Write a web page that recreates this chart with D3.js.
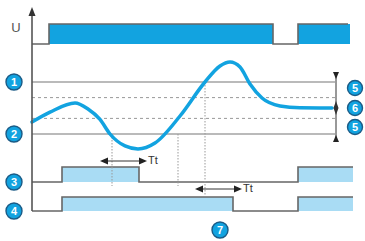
<!DOCTYPE html>
<html>
<head>
<meta charset="utf-8">
<script src="https://cdn.jsdelivr.net/npm/d3@7"></script>
<style>
  body { margin: 0; background: #fff; }
  svg { display: block; font-family: "Liberation Sans", Arial, sans-serif; }
</style>
</head>
<body>
<svg id="chart" width="365" height="241"></svg>
<script>
// analog signal (time, value)
const curveT = [0, 18, 43, 56, 68, 78, 93, 106, 123, 148, 173, 188, 198, 208, 218, 230, 248, 268, 300];
const curveV = [36.5, 46, 54.8, 49, 39, 25, 13.5, 10.6, 16.3, 42.3, 75, 90.4, 94.2, 89.4, 73.1, 59.6, 52, 50.2, 50];

// thresholds
const limitHigh = 75;
const limitLow = 25;
const hystHigh = 60;
const hystLow = 40;

// digital signals: edge times, starting level 0
const supplyEdges = [17, 241, 266];
const supplyEnd = 316;
const out3Edges = [30, 107, 266];
const out4Edges = [30, 201, 266];
const outEnd = 321;

// time delays Tt: [start, end]
const delays = [[68, 115], [163, 210]];
const dottedMarks = [
  { t: 80, from: limitLow, to: "out3" },
  { t: 146, from: limitLow, to: "out3" },
  { t: 173, from: limitHigh, to: "delay2" }
];

const leftLabels = ["1", "2", "3", "4"];
const rightLabels = ["5", "6", "5"];

const blue = "#12a3e0";
const lightBlue = "#a9dcf4";
const grey = "#666";

const svg = d3.select("#chart");

const x = d3.scaleLinear().domain([0, 320]).range([32, 352]);
const y = d3.scaleLinear().domain([25, 75]).range([134, 82]);

// digital rows: [low y, high y]
const rows = {
  supply: [44, 24],
  out3: [182, 167],
  out4: [211, 197]
};

function stepData(edges, end) {
  const pts = [{ t: 0, v: 0 }];
  edges.forEach((e, i) => pts.push({ t: e, v: (i + 1) % 2 }));
  pts.push({ t: end, v: pts[pts.length - 1].v });
  return pts;
}

function drawDigital(edges, end, row, fill, fillEnd) {
  const data = stepData(edges, end);
  const ly = d3.scaleLinear().domain([0, 1]).range(row);
  // high segments fill
  for (let i = 0; i < data.length - 1; i++) {
    if (data[i].v === 1) {
      const t1 = i + 1 === data.length - 1 ? fillEnd : data[i + 1].t;
      svg.append("rect")
        .attr("x", x(data[i].t))
        .attr("y", ly(1))
        .attr("width", x(t1) - x(data[i].t))
        .attr("height", ly(0) - ly(1))
        .attr("fill", fill);
    }
  }
  svg.append("path")
    .datum(data)
    .attr("d", d3.line().x((d) => x(d.t)).y((d) => ly(d.v)).curve(d3.curveStepAfter))
    .attr("fill", "none")
    .attr("stroke", grey)
    .attr("stroke-width", 1.6);
}

drawDigital(supplyEdges, supplyEnd, rows.supply, blue, 318);
drawDigital(out3Edges, outEnd, rows.out3, lightBlue, outEnd);
drawDigital(out4Edges, outEnd, rows.out4, lightBlue, outEnd);

// threshold lines
[limitHigh, limitLow].forEach((v) => {
  svg.append("line")
    .attr("x1", x(0)).attr("x2", x(303))
    .attr("y1", y(v)).attr("y2", y(v))
    .attr("stroke", "#777").attr("stroke-width", 1.2);
});
[hystHigh, hystLow].forEach((v) => {
  svg.append("line")
    .attr("x1", x(0)).attr("x2", x(303))
    .attr("y1", y(v)).attr("y2", y(v))
    .attr("stroke", "#999").attr("stroke-width", 1)
    .attr("stroke-dasharray", "3,3");
});

// dotted verticals
dottedMarks.forEach((d) => {
  const yEnd = d.to === "out3" ? 186 : 196;
  svg.append("line")
    .attr("x1", x(d.t)).attr("x2", x(d.t))
    .attr("y1", y(d.from)).attr("y2", yEnd)
    .attr("stroke", "#999").attr("stroke-width", 1)
    .attr("stroke-dasharray", "1.5,1.5");
});

// analog curve
const curveData = curveT.map((t, i) => ({ t, v: curveV[i] }));
svg.append("path")
  .datum(curveData)
  .attr("d", d3.line().x((d) => x(d.t)).y((d) => y(d.v)).curve(d3.curveMonotoneX))
  .attr("fill", "none")
  .attr("stroke", blue)
  .attr("stroke-width", 3.5)
  .attr("stroke-linecap", "round");

// axis
svg.append("line")
  .attr("x1", 32).attr("x2", 32)
  .attr("y1", 12).attr("y2", rows.out4[0])
  .attr("stroke", "#555").attr("stroke-width", 1.6);
svg.append("path")
  .attr("d", "M32,7 L28.5,16 L35.5,16 Z")
  .attr("fill", "#333");
svg.append("text")
  .attr("x", 16).attr("y", 32)
  .attr("font-size", 13)
  .attr("fill", "#555")
  .attr("text-anchor", "middle")
  .text("U");

// Tt arrows
const delayY = [161, 189];
delays.forEach((d, i) => {
  const yy = delayY[i];
  const x1 = x(d[0]), x2 = x(d[1]);
  svg.append("line")
    .attr("x1", x1 + 2).attr("x2", x2 - 2)
    .attr("y1", yy).attr("y2", yy)
    .attr("stroke", "#333").attr("stroke-width", 1);
  svg.append("path")
    .attr("d", `M${x1},${yy} L${x1 + 8},${yy - 3.5} L${x1 + 8},${yy + 3.5} Z`)
    .attr("fill", "#222");
  svg.append("path")
    .attr("d", `M${x2},${yy} L${x2 - 8},${yy - 3.5} L${x2 - 8},${yy + 3.5} Z`)
    .attr("fill", "#222");
  svg.append("text")
    .attr("x", x2 + 1).attr("y", yy + 3)
    .attr("font-size", 11)
    .attr("fill", "#333")
    .text("Tt");
});

// right-hand dimension arrow
const ax = 336;
svg.append("line")
  .attr("x1", ax).attr("x2", ax)
  .attr("y1", 72).attr("y2", 142)
  .attr("stroke", "#333").attr("stroke-width", 1);
svg.append("path").attr("d", `M${ax - 3},72 L${ax + 3},72 L${ax},79 Z`).attr("fill", "#222");
svg.append("path").attr("d", `M${ax - 3},142 L${ax + 3},142 L${ax},135 Z`).attr("fill", "#222");
svg.append("path").attr("d", `M${ax},${y(50) - 7} L${ax + 2.5},${y(50)} L${ax},${y(50) + 7} L${ax - 2.5},${y(50)} Z`).attr("fill", "#333");

// numbered badges
function badge(cx, cy, r, label) {
  svg.append("circle")
    .attr("cx", cx).attr("cy", cy).attr("r", r)
    .attr("fill", blue)
    .attr("stroke", "#1b5b86")
    .attr("stroke-width", 1.4);
  svg.append("text")
    .attr("x", cx).attr("y", cy + 4)
    .attr("text-anchor", "middle")
    .attr("font-size", 11)
    .attr("font-weight", "bold")
    .attr("fill", "#fff")
    .text(label);
}

const leftY = [y(limitHigh), y(limitLow), rows.out3[0], rows.out4[0]];
leftLabels.forEach((l, i) => badge(14, leftY[i], 8, l));
const rightY = [88, 108, 127];
rightLabels.forEach((l, i) => badge(355, rightY[i], 7.5, l));
badge(220, 230, 8, "7");
</script>
</body>
</html>
